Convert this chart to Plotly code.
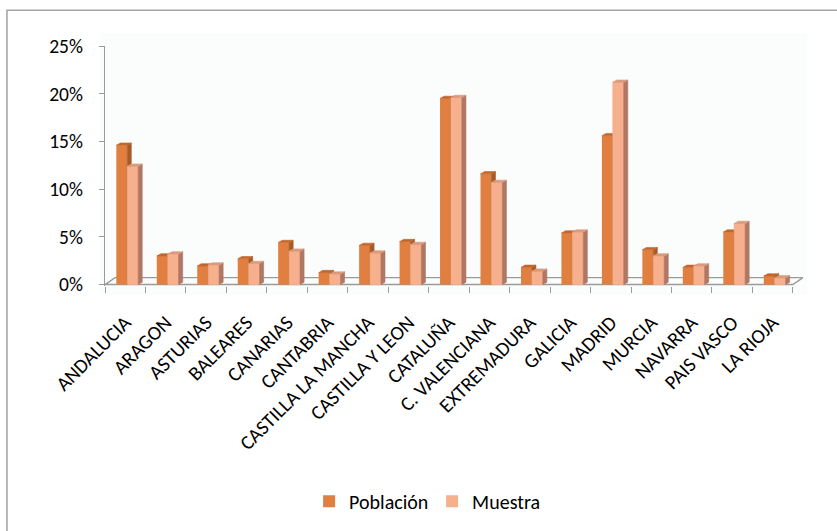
import plotly.graph_objects as go

# Share of each autonomous community: population vs. sample (%)
regions = [
    "ANDALUCIA", "ARAGON", "ASTURIAS", "BALEARES", "CANARIAS", "CANTABRIA",
    "CASTILLA LA MANCHA", "CASTILLA Y LEON", "CATALUÑA", "C. VALENCIANA",
    "EXTREMADURA", "GALICIA", "MADRID", "MURCIA", "NAVARRA", "PAIS VASCO",
    "LA RIOJA",
]
poblacion = [14.6, 3.0, 1.95, 2.7, 4.4, 1.25, 4.1, 4.5, 19.5, 11.6,
             1.8, 5.4, 15.6, 3.65, 1.8, 5.5, 0.9]
muestra = [12.4, 3.2, 2.05, 2.2, 3.5, 1.1, 3.3, 4.2, 19.6, 10.7,
           1.4, 5.5, 21.2, 3.0, 1.95, 6.4, 0.7]
y_ticks = [0, 5, 10, 15, 20, 25]
y_labels = [f"{v}%" for v in y_ticks]

n = len(regions)
idx = list(range(n))

# pseudo-3D column geometry (axis units)
BAR_W = 0.27
POB_OFF = -0.22
MUE_OFF = POB_OFF + BAR_W
DEPTH_X = 0.10
DEPTH_Y = 0.24
FLOOR_X = 0.25
FLOOR_Y = 0.73

POB_FRONT, POB_SIDE, POB_TOP = "#E07F40", "#A85A27", "#C2672C"
MUE_FRONT, MUE_SIDE, MUE_TOP = "#F6B08D", "#AF7764", "#DA9B7E"
GRAY = "#9A9A9A"
FONT = "Carlito, Calibri, Lato, sans-serif"


def front_face(x0, h):
    x1 = x0 + BAR_W
    return [x0, x1, x1, x0, x0], [0, 0, h, h, 0]


def side_face(x0, h):
    x1 = x0 + BAR_W
    return ([x1, x1 + DEPTH_X, x1 + DEPTH_X, x1, x1],
            [0, DEPTH_Y, h + DEPTH_Y, h, 0])


def top_face(x0, h):
    x1 = x0 + BAR_W
    return ([x0, x1, x1 + DEPTH_X, x0 + DEPTH_X, x0],
            [h, h, h + DEPTH_Y, h + DEPTH_Y, h])


def merged(face, offset, values):
    xs, ys = [], []
    for i, v in zip(idx, values):
        px, py = face(i + offset, v)
        xs += px + [None]
        ys += py + [None]
    return xs, ys


def face_trace(face, offset, values, color):
    xs, ys = merged(face, offset, values)
    return go.Scatter(
        x=xs, y=ys, mode="lines", fill="toself", fillcolor=color,
        line=dict(color=color, width=0.6), hoverinfo="skip",
        showlegend=False,
    )


fig = go.Figure()

fig.add_trace(go.Bar(
    x=idx, y=poblacion, width=BAR_W, offset=POB_OFF, name="Población",
    marker=dict(color=POB_FRONT, line=dict(width=0)),
))
fig.add_trace(go.Bar(
    x=idx, y=muestra, width=BAR_W, offset=MUE_OFF, name="Muestra",
    marker=dict(color=MUE_FRONT, line=dict(width=0)),
))

# depth faces, painted back to front
fig.add_trace(face_trace(side_face, POB_OFF, poblacion, POB_SIDE))
fig.add_trace(face_trace(top_face, POB_OFF, poblacion, POB_TOP))
fig.add_trace(face_trace(front_face, MUE_OFF, muestra, MUE_FRONT))
fig.add_trace(face_trace(side_face, MUE_OFF, muestra, MUE_SIDE))
fig.add_trace(face_trace(top_face, MUE_OFF, muestra, MUE_TOP))

x_lo, x_hi = -0.5, n - 0.5
W, H = 837, 531
L, R, T = 105, 34.4, 46
plot_w = W - L - R
y_lo, y_hi = -0.15, 25
plot_h = (y_hi - y_lo) * 9.6
B = H - T - plot_h


def px_x(p):
    return (p - L) / plot_w


def px_y(p):
    return (T + plot_h - p) / plot_h


shapes = [
    # chart frame
    dict(type="rect", xref="paper", yref="paper",
         x0=px_x(7), x1=px_x(850), y0=px_y(10), y1=px_y(545),
         line=dict(color="#A6A6A6", width=1.6), fillcolor="rgba(0,0,0,0)",
         layer="below"),
    # plot area tint
    dict(type="rect", xref="paper", yref="paper",
         x0=px_x(100), x1=px_x(807), y0=px_y(33), y1=px_y(296),
         line=dict(width=0), fillcolor="#FBFCFC", layer="below"),
    # floor
    dict(type="path", xref="x", yref="y", layer="below",
         path=(f"M{x_lo},0 L{x_hi},0 L{x_hi + FLOOR_X},{FLOOR_Y} "
               f"L{x_lo + FLOOR_X},{FLOOR_Y} Z"),
         line=dict(color=GRAY, width=1.4)),
]

fig.update_layout(
    width=W, height=H,
    margin=dict(l=L, r=R, t=T, b=B, pad=0),
    paper_bgcolor="white", plot_bgcolor="rgba(0,0,0,0)",
    barmode="overlay",
    font=dict(family=FONT, size=20, color="#000000"),
    shapes=shapes,
    showlegend=True,
    legend=dict(
        orientation="h", x=px_x(309), xanchor="left",
        y=px_y(502), yanchor="middle", entrywidth=78,
        font=dict(family=FONT, size=20, color="#000000"),
        itemclick=False, bgcolor="rgba(0,0,0,0)", traceorder="normal",
    ),
    xaxis=dict(
        range=[x_lo, x_hi + FLOOR_X], tickmode="array", tickvals=idx,
        ticktext=regions, tickangle=-45, ticks="", showline=False,
        showgrid=False, zeroline=False, ticklabelstandoff=20,
        tickfont=dict(family=FONT, size=20),
        minor=dict(tickmode="array", tickvals=[i - 0.5 for i in range(n + 1)],
                   ticks="outside", ticklen=6, tickcolor=GRAY, tickwidth=1.4,
                   showgrid=False),
    ),
    yaxis=dict(
        range=[y_lo, y_hi], tickmode="array", tickvals=y_ticks,
        ticktext=y_labels, ticks="outside", ticklen=5, tickcolor=GRAY,
        tickwidth=1.4, showline=True, linecolor=GRAY, linewidth=1.4,
        showgrid=False, zeroline=False, ticklabelstandoff=12,
        tickfont=dict(family=FONT, size=19.5),
    ),
)

fig.write_html("out.html")
